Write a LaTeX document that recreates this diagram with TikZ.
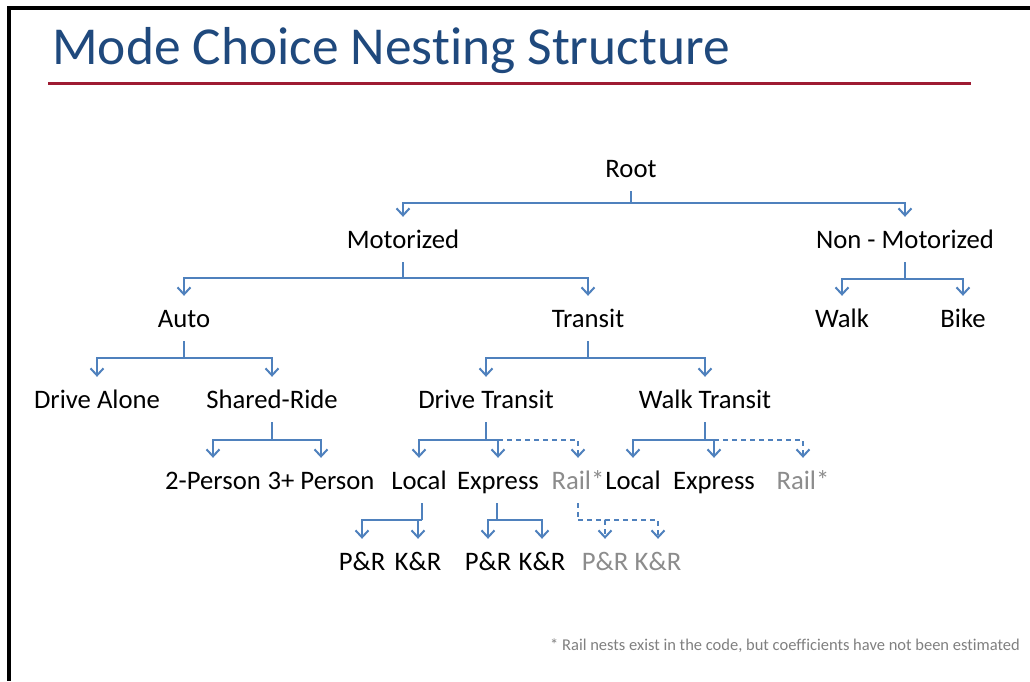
\documentclass[tikz,border=0pt]{standalone}
\usepackage{fontspec}
\setmainfont{Carlito}[Ligatures={NoCommon}]
\usetikzlibrary{arrows.meta}
\definecolor{arrowblue}{RGB}{79,129,189}
\definecolor{titleblue}{RGB}{31,73,125}
\definecolor{rulered}{RGB}{158,27,50}
\definecolor{railgray}{RGB}{140,140,140}
\definecolor{notegray}{RGB}{128,128,128}
\begin{document}
\begin{tikzpicture}[x=1pt,y=-1pt,
  lbl/.style={font=\fontsize{26.7}{30}\selectfont, anchor=base, inner sep=0pt, text height=31pt, text depth=14pt},
  grey/.style={text=railgray},
  ln/.style={draw=arrowblue, line width=2pt},
  arr/.style={ln, -{Straight Barb[length=7pt,width=13pt]}},
  dsh/.style={dash pattern=on 5pt off 4pt}]
\useasboundingbox (0,0) rectangle (1030,681);
\fill[white] (0,0) rectangle (1030,681);
% frame
\fill[black] (7,6) rectangle (11,681);
\fill[black] (7,6) rectangle (1030,10);
% title
\node[anchor=base west, font=\fontsize{53.4}{60}\selectfont, text=titleblue, inner sep=0pt] (title) at (52,64) {Mode Choice Nesting Structure};
\draw[rulered, line width=3pt] (48,83) -- (971,83);
% nodes
\node[lbl] (root) at (631,177) {Root};
\node[lbl] (mot) at (403,248) {Motorized};
\node[lbl] (nonmot) at (905,248) {Non - Motorized};
\node[lbl] (auto) at (184,327) {Auto};
\node[lbl] (transit) at (588,327) {Transit};
\node[lbl] (walk) at (842,327) {Walk};
\node[lbl] (bike) at (963,327) {Bike};
\node[lbl] (da) at (97,408) {Drive Alone};
\node[lbl] (sr) at (272,408) {Shared-Ride};
\node[lbl] (dt) at (486,408) {Drive Transit};
\node[lbl] (wt) at (705,408) {Walk Transit};
\node[lbl] (p2) at (213,489) {2-Person};
\node[lbl] (p3) at (321,489) {3+ Person};
\node[lbl] (loc1) at (419,489) {Local};
\node[lbl] (exp1) at (498,489) {Express};
\node[lbl,grey] (rail1) at (578,489) {Rail*};
\node[lbl] (loc2) at (633,489) {Local};
\node[lbl] (exp2) at (714,489) {Express};
\node[lbl,grey] (rail2) at (803,489) {Rail*};
\node[lbl] (pr1) at (362,570) {P\&R};
\node[lbl] (kr1) at (418,570) {K\&R};
\node[lbl] (pr2) at (488,570) {P\&R};
\node[lbl] (kr2) at (542,570) {K\&R};
\node[lbl,grey] (pr3) at (605,570) {P\&R};
\node[lbl,grey] (kr3) at (658,570) {K\&R};
% junctions
\coordinate (jroot) at (631,203);
\coordinate (jmot) at (403,278);
\coordinate (jnon) at (905,279);
\coordinate (jauto) at (184,358);
\coordinate (jtr) at (588,358);
\coordinate (jsr) at (272,440);
\coordinate (jdt) at (486,440);
\coordinate (jwt) at (705,440);
\coordinate (jloc) at (422,520);
\coordinate (jexp) at (497,520);
\coordinate (jrail) at (578,520);
% connectors
\draw[ln] (root.south) -- (jroot);
\draw[arr] (jroot) -| (mot.north);
\draw[arr] (jroot) -| (nonmot.north);
\draw[ln] (mot.south) -- (jmot);
\draw[arr] (jmot) -| (auto.north);
\draw[arr] (jmot) -| (transit.north);
\draw[ln] (nonmot.south) -- (jnon);
\draw[arr] (jnon) -| (walk.north);
\draw[arr] (jnon) -| (bike.north);
\draw[ln] (auto.south) -- (jauto);
\draw[arr] (jauto) -| (da.north);
\draw[arr] (jauto) -| (sr.north);
\draw[ln] (transit.south) -- (jtr);
\draw[arr] (jtr) -| (dt.north);
\draw[arr] (jtr) -| (wt.north);
\draw[ln] (sr.south) -- (jsr);
\draw[arr] (jsr) -| (p2.north);
\draw[arr] (jsr) -| (p3.north);
\draw[ln] (dt.south) -- (jdt);
\draw[arr] (jdt) -| (loc1.north);
\draw[arr] (jdt) -| (exp1.north);
\draw[arr,dsh] (jdt -| exp1.north) -| (rail1.north);
\draw[ln] (wt.south) -- (jwt);
\draw[arr] (jwt) -| (loc2.north);
\draw[arr] (jwt) -| (exp2.north);
\draw[arr,dsh] (jwt -| exp2.north) -| (rail2.north);
\draw[ln] (jloc |- loc1.south) -- (jloc);
\draw[arr] (jloc) -| (pr1.north);
\draw[arr] (jloc) -| (kr1.north);
\draw[ln] (jexp |- exp1.south) -- (jexp);
\draw[arr] (jexp) -| (pr2.north);
\draw[arr] (jexp) -| (kr2.north);
\draw[ln,dsh] (rail1.south) -- (jrail);
\draw[arr,dsh] (jrail) -| (pr3.north);
\draw[arr,dsh] (jrail) -| (kr3.north);
% footnote
\node[anchor=base west, font=\fontsize{16.5}{20}\selectfont, text=notegray, inner sep=0pt] (note) at (550,650) {* Rail nests exist in the code, but coefficients have not been estimated};
\end{tikzpicture}
\end{document}
